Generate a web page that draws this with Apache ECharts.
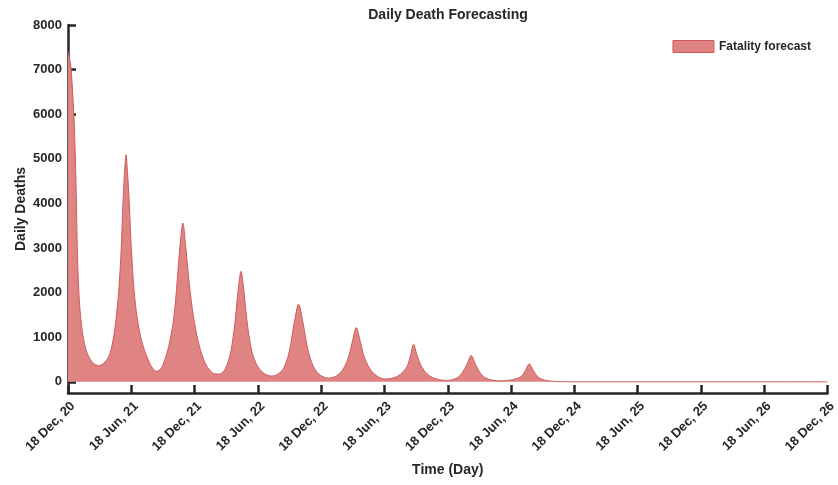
<!DOCTYPE html>
<html>
<head>
<meta charset="utf-8">
<title>Daily Death Forecasting</title>
<script src="https://cdn.jsdelivr.net/npm/echarts@6/dist/echarts.min.js"></script>
<style>
  html, body { margin: 0; padding: 0; background: #fff; }
  #chart { width: 838px; height: 485px; }
</style>
</head>
<body>
<div id="chart"></div>
<script>
// months after 18 Dec 2020
const monthsFromStart = [
  0, 0.15, 0.3, 0.55, 0.7, 0.8, 0.88, 1.03, 1.2, 1.44, 1.7, 1.96, 2.3, 2.6, 2.89,
  3.3, 3.7, 4.0, 4.32, 4.55, 4.8, 5.05, 5.21, 5.36, 5.5, 5.64, 5.81, 6.0, 6.28, 6.55, 6.85, 7.1, 7.42, 7.8, 8.1, 8.37,
  8.6, 8.9, 9.3, 9.6, 9.95, 10.15, 10.33, 10.6, 10.89, 11.15, 11.35, 11.52, 11.75, 11.97, 12.3, 12.6, 13.0, 13.4, 13.9,
  14.4, 14.9, 15.32, 15.56, 15.79, 16.0, 16.2, 16.4, 16.6, 16.8, 17.0, 17.25, 17.5, 17.9, 18.4, 18.9, 19.34,
  19.8, 20.2, 20.5, 20.85, 21.14, 21.5, 21.86, 22.22, 22.59, 22.9, 23.28, 23.7, 24.2, 24.7,
  25.3, 25.88, 26.3, 26.63, 27.0, 27.33, 27.66, 28.05, 28.45, 28.82, 29.4, 30.08,
  30.8, 31.5, 32.13, 32.45, 32.76, 33.08, 33.4, 33.8, 34.3, 34.9, 35.4, 35.92,
  36.6, 37.0, 37.35, 37.8, 38.22, 38.65, 39.1, 39.6, 40.3, 41.0,
  41.8, 42.5, 43.03, 43.4, 43.72, 44.07, 44.45, 44.9, 45.6, 46.66, 48, 72
];
const dailyDeaths = [
  7400, 7250, 7000, 6000, 5000, 4000, 3000, 2000, 1450, 1000, 720, 570, 440, 385, 366,
  400, 500, 650, 1000, 1400, 2000, 3000, 4000, 4700, 5090, 4700, 4000, 3000, 2000, 1450, 1050, 820, 600, 390, 285, 240,
  255, 330, 580, 850, 1300, 1700, 2200, 3000, 3560, 3050, 2550, 2150, 1700, 1350, 950, 680, 420, 270, 180,
  175, 290, 560, 850, 1250, 1750, 2200, 2480, 2200, 1750, 1300, 900, 620, 380, 220, 150, 130,
  160, 230, 330, 560, 880, 1400, 1742, 1400, 900, 580, 340, 190, 110, 83,
  115, 220, 380, 580, 950, 1218, 950, 580, 360, 230, 115, 62,
  85, 165, 340, 570, 845, 600, 400, 240, 130, 65, 40, 30,
  60, 110, 195, 380, 590, 380, 195, 85, 35, 22,
  35, 70, 135, 270, 404, 270, 135, 60, 20, 5, 0, 0
];
const tickLabels = [
  '18 Dec, 20', '18 Jun, 21', '18 Dec, 21', '18 Jun, 22', '18 Dec, 22', '18 Jun, 23', '18 Dec, 23',
  '18 Jun, 24', '18 Dec, 24', '18 Jun, 25', '18 Dec, 25', '18 Jun, 26', '18 Dec, 26'
];
const yTicks = [0, 1000, 2000, 3000, 4000, 5000, 6000, 7000, 8000];

const ink = '#262626';
const font = "'Liberation Sans', Arial, Helvetica, sans-serif";

let chart = echarts.init(document.getElementById('chart'));
let option = {
  animation: false,
  textStyle: { fontFamily: font },
  title: {
    text: 'Daily Death Forecasting',
    left: 448,
    textAlign: 'center',
    top: 8,
    padding: 0,
    textStyle: { fontSize: 14, fontWeight: 'bold', color: ink, fontFamily: font }
  },
  legend: {
    top: 40,
    right: 27,
    padding: 0,
    icon: 'rect',
    itemWidth: 41,
    itemHeight: 12,
    itemStyle: { color: '#df8383', borderColor: '#d05a5a', borderWidth: 1 },
    textStyle: { fontSize: 12, fontWeight: 'bold', color: ink, fontFamily: font },
    data: ['Fatality forecast']
  },
  grid: { left: 68, right: 10.5, top: 25, bottom: 92, containLabel: false, outerBoundsMode: 'none' },
  xAxis: {
    type: 'value',
    min: 0,
    max: 72,
    interval: 6,
    name: 'Time (Day)',
    nameLocation: 'middle',
    nameGap: 70,
    nameTextStyle: { fontSize: 14, fontWeight: 'bold', color: ink, fontFamily: font },
    axisLine: { onZero: false, lineStyle: { color: ink, width: 2.5 } },
    axisTick: { inside: true, length: 8, lineStyle: { color: ink, width: 2.5 } },
    axisLabel: {
      rotate: 45,
      margin: 16,
      padding: [0, -7, 0, 0],
      fontSize: 13,
      fontWeight: 'bold',
      color: ink,
      fontFamily: font,
      formatter: v => tickLabels[Math.round(v / 6)]
    },
    splitLine: { show: false }
  },
  yAxis: {
    type: 'value',
    min: -250,
    max: 8000,
    name: 'Daily Deaths',
    nameLocation: 'middle',
    nameGap: 40,
    nameMoveOverlap: false,
    nameTextStyle: { fontSize: 14, fontWeight: 'bold', color: ink, fontFamily: font },
    axisLine: { show: true, lineStyle: { color: ink, width: 2.5 } },
    axisTick: { show: true, inside: true, length: 8, customValues: yTicks, lineStyle: { color: ink, width: 2.5 } },
    axisLabel: {
      customValues: yTicks,
      margin: 6,
      fontSize: 13,
      fontWeight: 'bold',
      color: ink,
      fontFamily: font,
      formatter: v => String(v)
    },
    splitLine: { show: false }
  },
  series: [{
    name: 'Fatality forecast',
    type: 'line',
    data: monthsFromStart.map((m, i) => [m, dailyDeaths[i]]),
    smooth: 0.3,
    showSymbol: false,
    symbol: 'none',
    lineStyle: { color: '#d05a5a', width: 1 },
    itemStyle: { color: '#df8383' },
    areaStyle: { color: '#df8383', opacity: 1, origin: 0 }
  }]
};
chart.setOption(option);
</script>
</body>
</html>
